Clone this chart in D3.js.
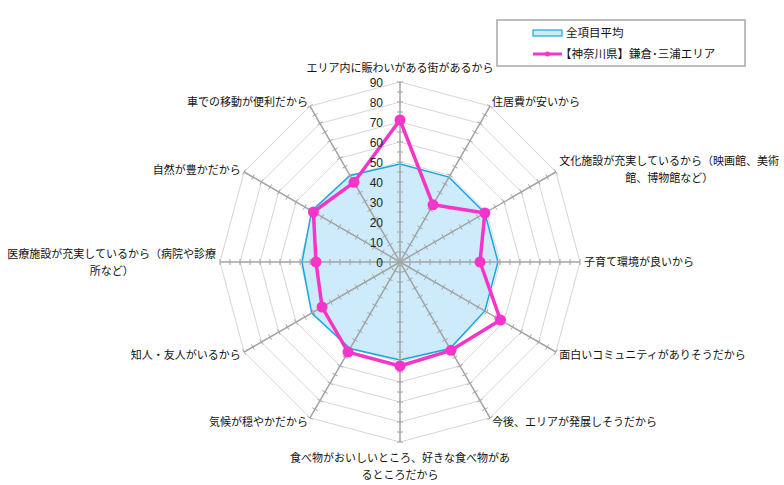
<!DOCTYPE html>
<html lang="ja">
	<head>
		<meta charset="utf-8">
		<title>radar</title>
		<script src="https://d3js.org/d3.v7.min.js"></script>
		<style type="text/css">
			body { margin: 0; background: #fff; }
			text { font-family: "Noto Sans CJK JP", "Noto Sans", sans-serif; fill: #111; }
		</style>
	</head>

	<body>
		<script type="text/javascript">
			// window and other default setup
			var w = 784
			var h = 485
			var cx = 400
			var cy = 262

			// data
			var categories = [
				["エリア内に賑わいがある街があるから"],
				["住居費が安いから"],
				["文化施設が充実しているから（映画館、美術", "館、博物館など）"],
				["子育て環境が良いから"],
				["面白いコミュニティがありそうだから"],
				["今後、エリアが発展しそうだから"],
				["食べ物がおいしいところ、好きな食べ物があ", "るところだから"],
				["気候が穏やかだから"],
				["知人・友人がいるから"],
				["医療施設が充実しているから（病院や診療", "所など）"],
				["自然が豊かだから"],
				["車での移動が便利だから"]
			]
			var seriesNames = ["全項目平均", "【神奈川県】鎌倉･三浦エリア"]
			var averageValues = [49, 49, 49, 49, 49, 50, 49, 50, 51, 49, 51, 50]
			var areaValues = [71, 33, 49, 40, 58, 51, 52, 52, 45, 42, 50, 46]
			var tickValues = [0, 10, 20, 30, 40, 50, 60, 70, 80, 90]
			var minorTicks = d3.range(5, 91, 5)

			var blue = "#1ba6de"
			var blueFill = "#cdebfa"
			var pink = "#f535c9"

			var n = categories.length
			var r = d3.scaleLinear().domain([0, 90]).range([0, 180])
			var angle = d3.scaleLinear().domain([0, n]).range([0, 2 * Math.PI])

			var svg = d3.select("body")
						.append("svg")
						.attr("width", w)
						.attr("height", h)

			var g = svg.append("g").attr("transform", "translate(" + cx + "," + cy + ")")

			function px(i, v) { return Math.sin(angle(i)) * r(v) }
			function py(i, v) { return -Math.cos(angle(i)) * r(v) }

			// grid polygons
			var radial = d3.lineRadial().curve(d3.curveLinearClosed)
			g.selectAll(".grid")
				.data(tickValues.slice(1))
				.enter()
				.append("path")
				.attr("d", function(v) {
					return radial(d3.range(n).map(function(i) { return [angle(i), r(v)] }))
				})
				.style("fill", "none")
				.style("stroke", "#d6d6d6")
				.style("stroke-width", 1)

			// tick marks data
			var tickData = []
			d3.range(n).forEach(function(i) {
				minorTicks.forEach(function(v) { tickData.push({ i: i, v: v }) })
			})

			// average series
			g.append("path")
				.attr("d", radial(averageValues.map(function(v, i) { return [angle(i), r(v)] })))
				.style("fill", blueFill)
				.style("stroke", blue)
				.style("stroke-width", 1.5)

			// axes, drawn over the fill
			g.selectAll(".axis")
				.data(d3.range(n))
				.enter()
				.append("line")
				.attr("x1", 0).attr("y1", 0)
				.attr("x2", function(i) { return px(i, 90) })
				.attr("y2", function(i) { return py(i, 90) })
				.style("stroke", "#a3a3a3")
				.style("stroke-width", 1.5)

			g.selectAll(".tick")
				.data(tickData)
				.enter()
				.append("line")
				.attr("x1", function(d) { return px(d.i, d.v) + Math.cos(angle(d.i)) * 3 })
				.attr("y1", function(d) { return py(d.i, d.v) + Math.sin(angle(d.i)) * 3 })
				.attr("x2", function(d) { return px(d.i, d.v) - Math.cos(angle(d.i)) * 3 })
				.attr("y2", function(d) { return py(d.i, d.v) - Math.sin(angle(d.i)) * 3 })
				.style("stroke", "#a3a3a3")
				.style("stroke-width", 1)

			// area series
			g.append("path")
				.attr("d", radial(areaValues.map(function(v, i) { return [angle(i), r(v)] })))
				.style("fill", "none")
				.style("stroke", pink)
				.style("stroke-width", 3.5)
				.style("stroke-linejoin", "round")

			g.selectAll(".dot")
				.data(areaValues)
				.enter()
				.append("circle")
				.attr("cx", function(v, i) { return px(i, v) })
				.attr("cy", function(v, i) { return py(i, v) })
				.attr("r", 5.5)
				.style("fill", pink)

			// value labels on the top axis
			g.selectAll(".tlabel")
				.data(tickValues)
				.enter()
				.append("text")
				.attr("x", -17)
				.attr("y", function(v) { return -r(v) + 4.5 })
				.attr("text-anchor", "end")
				.style("font-family", "'Liberation Sans', Arial, sans-serif")
				.style("font-size", "12px")
				.style("fill", "#222")
				.text(function(v) { return v })

			// category labels
			var labels = g.selectAll(".clabel")
							.data(categories)
							.enter()
							.append("text")
							.style("font-size", "11px")

			labels.each(function(lines, i) {
				var a = angle(i)
				var s = Math.round(Math.sin(a) * 1000) / 1000
				var ex = px(i, 90)
				var ey = py(i, 90)
				var lx, ly
				if (s === 0) {
					lx = ex
					ly = ey + (Math.cos(a) > 0 ? -14 : 16)
				} else {
					lx = ex + Math.sin(a) * 4
					ly = ey - Math.cos(a) * 5
				}
				var t = d3.select(this)
				var first = t.append("tspan").text(lines[0])
				var len = first.node().getComputedTextLength()
				var mid
				if (s === 0) mid = lx
				else if (s > 0) mid = lx + len / 2
				else mid = lx - len / 2
				var top = s === 0 && Math.cos(a) < 0 ? ly : ly - (lines.length - 1) * 8.5
				t.selectAll("tspan").remove()
				lines.forEach(function(line, k) {
					t.append("tspan")
						.attr("x", mid)
						.attr("y", top + k * 17 + 4)
						.attr("text-anchor", "middle")
						.text(line)
				})
			})

			// legend
			var legend = svg.append("g")
			legend.append("rect")
				.attr("x", 497).attr("y", 20)
				.attr("width", 248).attr("height", 46)
				.style("fill", "#fff")
				.style("stroke", "#a8a8a8")
				.style("stroke-width", 1.5)
			legend.append("rect")
				.attr("x", 533).attr("y", 30)
				.attr("width", 29).attr("height", 6)
				.style("fill", blueFill)
				.style("stroke", blue)
				.style("stroke-width", 1.2)
			legend.append("line")
				.attr("x1", 533).attr("x2", 562)
				.attr("y1", 54).attr("y2", 54)
				.style("stroke", pink)
				.style("stroke-width", 3)
			legend.append("circle")
				.attr("cx", 547.5).attr("cy", 54).attr("r", 2.5)
				.style("fill", pink)
			legend.selectAll(".ltext")
				.data(seriesNames)
				.enter()
				.append("text")
				.attr("x", function(d, i) { return i === 0 ? 566 : 560 })
				.attr("y", function(d, i) { return i === 0 ? 37 : 58 })
				.style("font-size", "11.5px")
				.text(function(d) { return d })
		</script>
	</body>
</html>
